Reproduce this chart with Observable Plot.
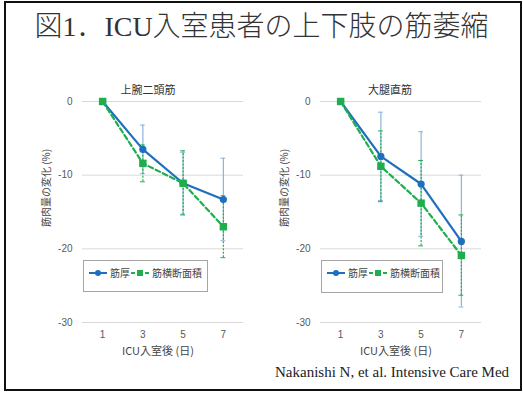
<!DOCTYPE html>
<html>
<head>
<meta charset="utf-8">
<script src="https://cdn.jsdelivr.net/npm/d3@7"></script>
<script src="https://cdn.jsdelivr.net/npm/@observablehq/plot@0.6"></script>
<style>
  html, body { margin: 0; padding: 0; background: #fff; }
  #page { position: relative; width: 523px; height: 393px; overflow: hidden; background: #fff; }
  #frame { position: absolute; left: 4px; top: 1px; width: 514px; height: 386px; border: 2px solid #111; }
  #title { position: absolute; left: 0; width: 523px; top: 4px; text-align: center;
    font-family: "Liberation Serif", "Noto Sans CJK JP", serif; font-size: 28px; font-weight: 300; color: #333; white-space: nowrap; }
  .panel { position: absolute; top: 75px; }
  .ptitle { position: absolute; font-family: "Noto Sans CJK JP", sans-serif; font-size: 11px; color: #333; white-space: nowrap; transform: translateX(-50%); }
  .ylab { position: absolute; font-family: "Noto Sans CJK JP", sans-serif; font-size: 10px; color: #444; white-space: nowrap;
    transform: translate(-50%, -50%) rotate(-90deg); }
  .xlab { position: absolute; font-family: "Noto Sans CJK JP", sans-serif; font-size: 11px; color: #444; white-space: nowrap; transform: translateX(-50%); }
  #caption { position: absolute; left: 275px; top: 364px; font-family: "Liberation Serif", serif; font-size: 15px; color: #222; white-space: nowrap; }
</style>
</head>
<body>
<div id="page">
  <div id="frame"></div>
  <div id="title">図1．ICU入室患者の上下肢の筋萎縮</div>
  <div id="caption">Nakanishi N, et al. Intensive Care Med</div>
</div>
<script>
// ---- data ----
const days = [1, 3, 5, 7];
const yTicks = [0, -10, -20, -30];
const seriesNames = ["筋厚", "筋横断面積"];
const panelTitles = ["上腕二頭筋", "大腿直筋"];
const yLabel = "筋肉量の変化 (%)";
const xLabel = "ICU入室後 (日)";

// 上腕二頭筋
const bicepsThickness   = [0, -6.5, -11.1, -13.3];
const bicepsThicknessHi = [0, -3.2, -6.9, -7.7];
const bicepsThicknessLo = [0, -9.8, -15.3, -18.9];
const bicepsCSA   = [0, -8.4, -11.1, -17.0];
const bicepsCSAHi = [0, -5.9, -6.7, -12.8];
const bicepsCSALo = [0, -10.9, -15.4, -21.2];

// 大腿直筋
const rectusThickness   = [0, -7.45, -11.2, -19.0];
const rectusThicknessHi = [0, -1.45, -4.1, -10.0];
const rectusThicknessLo = [0, -13.45, -18.3, -27.9];
const rectusCSA   = [0, -8.8, -13.8, -20.9];
const rectusCSAHi = [0, -4.0, -8.0, -15.4];
const rectusCSALo = [0, -13.6, -19.6, -26.3];

const BLUE = "#1f6fbf";
const BLUE_ERR = "#8db4dc";
const GREEN = "#1fae4e";

function rows(vals, hi, lo) {
  return days.map((d, i) => ({ day: d, v: vals[i], hi: hi[i], lo: lo[i] }));
}

function makePanel(left, th, csa) {
  const errTh = th.filter(d => d.hi !== d.lo);
  const errCsa = csa.filter(d => d.hi !== d.lo);
  const capW = 0.12;
  const chart = Plot.plot({
    width: 215, height: 285,
    marginLeft: 42, marginRight: 12, marginTop: 26, marginBottom: 38,
    style: { fontSize: "10px", color: "#595959", background: "transparent", fontFamily: "Liberation Sans, sans-serif" },
    x: { domain: [0, 8], ticks: days, tickSize: 0, tickPadding: 8, label: null, tickFormat: d => String(d) },
    y: { domain: [-30, 0], ticks: yTicks, tickSize: 0, tickPadding: 10, label: null, tickFormat: d => String(d) },
    marks: [
      Plot.gridY(yTicks, { stroke: "#d9d9d9", strokeOpacity: 1 }),
      Plot.ruleX(errTh, { x: "day", y1: "lo", y2: "hi", stroke: BLUE_ERR, strokeWidth: 1.2 }),
      Plot.ruleY(errTh, { y: "hi", x1: d => d.day - capW, x2: d => d.day + capW, stroke: BLUE_ERR, strokeWidth: 1 }),
      Plot.ruleY(errTh, { y: "lo", x1: d => d.day - capW, x2: d => d.day + capW, stroke: BLUE_ERR, strokeWidth: 1 }),
      Plot.ruleX(errCsa, { x: "day", y1: "lo", y2: "hi", stroke: GREEN, strokeWidth: 1.2, strokeDasharray: "2,1.5" }),
      Plot.ruleY(errCsa, { y: "hi", x1: d => d.day - capW, x2: d => d.day + capW, stroke: GREEN, strokeWidth: 1 }),
      Plot.ruleY(errCsa, { y: "lo", x1: d => d.day - capW, x2: d => d.day + capW, stroke: GREEN, strokeWidth: 1 }),
      Plot.line(th, { x: "day", y: "v", stroke: BLUE, strokeWidth: 2.2 }),
      Plot.dot(th, { x: "day", y: "v", r: 3.6, fill: BLUE, stroke: "none" }),
      Plot.line(csa, { x: "day", y: "v", stroke: GREEN, strokeWidth: 2.2, strokeDasharray: "5,3" }),
      Plot.dot(csa, { x: "day", y: "v", symbol: "square", r: 4.2, fill: GREEN, stroke: "none" })
    ]
  });
  const wrap = document.createElement("div");
  wrap.className = "panel";
  wrap.style.left = left + "px";
  wrap.appendChild(chart);
  document.getElementById("page").appendChild(wrap);
}

function addText(cls, text, x, y) {
  const el = document.createElement("div");
  el.className = cls;
  el.textContent = text;
  el.style.left = x + "px";
  el.style.top = y + "px";
  document.getElementById("page").appendChild(el);
}

function addLegend(x, y, w, h) {
  const svg = d3.create("svg").attr("width", w).attr("height", h)
    .style("position", "absolute").style("left", x + "px").style("top", y + "px");
  svg.append("rect").attr("x", 0.5).attr("y", 0.5).attr("width", w - 1).attr("height", h - 1)
    .attr("fill", "#fff").attr("stroke", "#a6a6a6");
  const cy = 13;
  const items = [
    { x: 6, name: seriesNames[0], color: BLUE, dash: null, sym: "circle" },
    { x: 48, name: seriesNames[1], color: GREEN, dash: "4,3", sym: "square" }
  ];
  items.forEach(it => {
    svg.append("line").attr("x1", it.x).attr("x2", it.x + 18).attr("y1", cy).attr("y2", cy)
      .attr("stroke", it.color).attr("stroke-width", 2).attr("stroke-dasharray", it.dash);
    if (it.sym === "circle") svg.append("circle").attr("cx", it.x + 9).attr("cy", cy).attr("r", 3).attr("fill", it.color);
    else svg.append("rect").attr("x", it.x + 6).attr("y", cy - 3).attr("width", 6).attr("height", 6).attr("fill", it.color);
    svg.append("text").attr("x", it.x + 21).attr("y", cy + 3.5).text(it.name)
      .attr("font-family", "Noto Sans CJK JP, sans-serif").attr("font-size", 10).attr("fill", "#444");
  });
  document.getElementById("page").appendChild(svg.node());
}

makePanel(40, rows(bicepsThickness, bicepsThicknessHi, bicepsThicknessLo), rows(bicepsCSA, bicepsCSAHi, bicepsCSALo));
makePanel(278, rows(rectusThickness, rectusThicknessHi, rectusThicknessLo), rows(rectusCSA, rectusCSAHi, rectusCSALo));

addText("ptitle", panelTitles[0], 148, 81);
addText("ptitle", panelTitles[1], 390, 81);
addText("ylab", yLabel, 45, 188);
addText("ylab", yLabel, 283, 188);
addText("xlab", xLabel, 158, 342);
addText("xlab", xLabel, 396, 342);
addLegend(83, 260, 125, 32);
addLegend(321, 260, 122, 33);
</script>
</body>
</html>
